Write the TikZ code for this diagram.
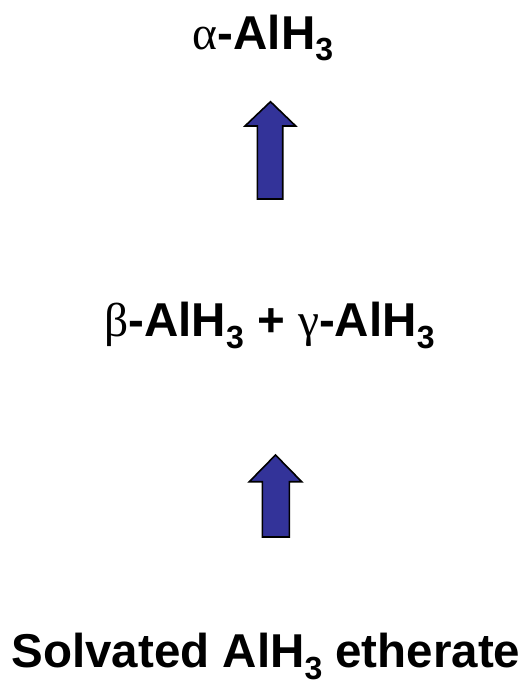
\documentclass[tikz,border=0pt]{standalone}
\usepackage{fontspec}
\setmainfont{Liberation Sans}
\newfontfamily\grk{Liberation Serif}
\definecolor{arrowblue}{HTML}{333399}
\newcommand{\subthree}{\raisebox{-12pt}{\fontsize{32}{32}\selectfont\bfseries 3}}
\newcommand{\alhy}{\textbf{AlH}\subthree}
\begin{document}
\begin{tikzpicture}[x=1pt,y=-1pt,
  label/.style={inner sep=0pt, anchor=base, font=\fontsize{47.5}{47.5}\selectfont\bfseries},
  blockarrow/.style={fill=arrowblue, draw=black, line width=1.6pt, line join=miter}]
\useasboundingbox (0,0) rectangle (529,685);
\node[label] (alpha) at (263,49) {{\grk\mdseries α}-\alhy};
\node[label] (mid) at (269.5,336) {{\grk\mdseries β}-\alhy{} + {\grk\mdseries γ}-\alhy};
\node[label] (bottom) at (266,667) {Solvated \alhy{} etherate};
% upper arrow
\draw[blockarrow] (257.3,199) -- (257.3,126) -- (245,126) -- (270.5,101.7) -- (295.7,126) -- (282.7,126) -- (282.7,199) -- cycle;
% lower arrow
\draw[blockarrow] (262.3,537) -- (262.3,481.7) -- (249.3,481.7) -- (275.5,455) -- (301.7,481.7) -- (289.3,481.7) -- (289.3,537) -- cycle;
\end{tikzpicture}
\end{document}
